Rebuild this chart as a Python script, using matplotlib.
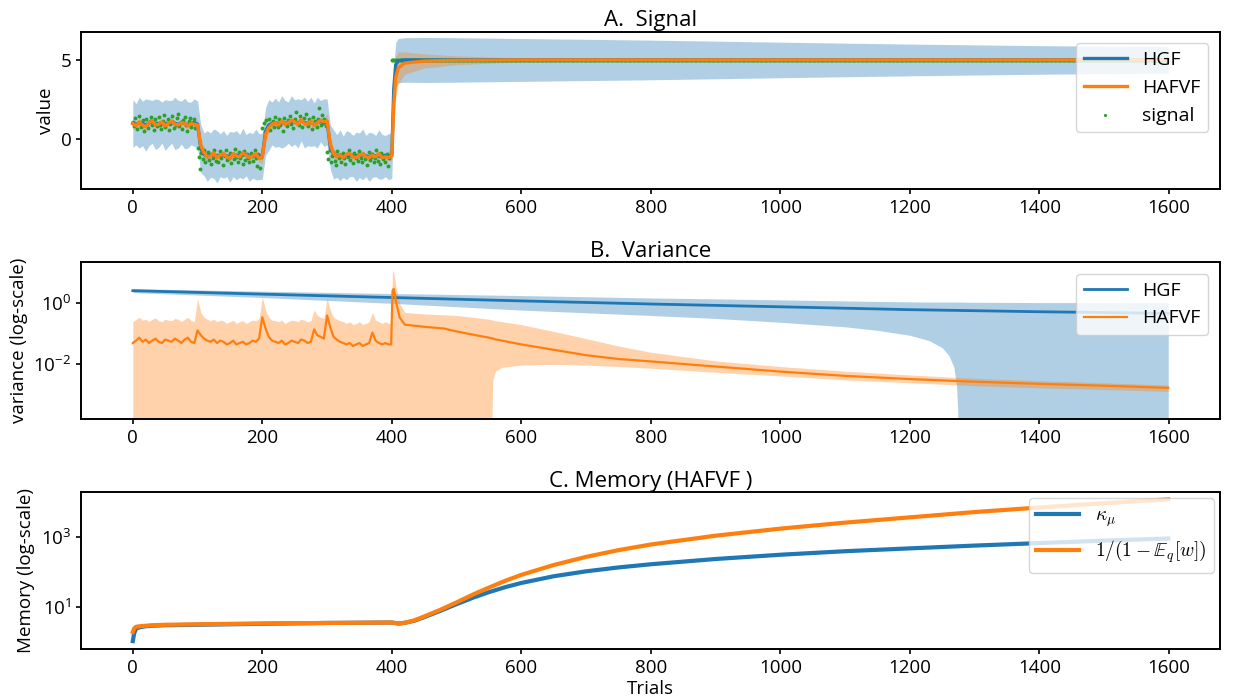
import numpy as np
import matplotlib
matplotlib.use("Agg")
import matplotlib.pyplot as plt
from matplotlib.font_manager import FontProperties
from matplotlib.ticker import NullLocator

plt.rcParams['font.family'] = ['Open Sans', 'DejaVu Sans']
plt.rcParams['mathtext.fontset'] = 'custom'
plt.rcParams['mathtext.rm'] = 'Open Sans'
plt.rcParams['mathtext.it'] = 'Open Sans:italic'
plt.rcParams['mathtext.bf'] = 'Open Sans:bold'

# ---------------- Panel A : signal ----------------
signal_trials = np.arange(0, 400, 2)
signal_values = [
    1.12, 0.85, 1.35, 0.62, 1.05, 1.48, 0.78, 0.95, 1.22, 0.55, 1.30, 0.98, 0.70, 1.15, 1.42, 0.88, 0.60, 1.25, 1.05, 0.82,
    1.38, 0.92, 0.68, 1.18, 1.55, 0.75, 1.02, 1.28, 0.58, 0.95, 1.45, 1.10, 0.72, 0.88, 1.32, 1.60, 0.85, 1.08, 0.65, 1.20,
    1.40, 0.90, 0.52, 1.15, 1.35, 0.80, 1.00, 1.25, 0.70, 0.95,
    -0.55, -1.10, -1.90, -0.85, -1.25, -0.70, -1.40, -1.05, -0.80, -1.30, -1.55, -0.95, -1.15, -0.65, -1.35, -1.00, -1.45, -0.75, -1.20, -0.90,
    -1.60, -1.05, -0.70, -1.30, -1.15, -0.85, -1.50, -0.95, -1.25, -0.60, -1.10, -1.40, -0.80, -1.20, -1.00, -1.55, -0.75, -1.30, -0.90, -1.15,
    -1.45, -0.85, -1.05, -1.35, -0.70, -1.20, -1.65, -0.95, -1.80, -1.10,
    0.70, 1.05, 0.45, 1.20, 0.85, 1.30, 0.60, 0.95, 1.15, 0.75, 1.40, 1.00, 0.80, 1.25, 0.90, 1.10, 0.55, 1.35, 1.05, 0.85,
    1.20, 1.50, 0.95, 1.15, 0.70, 1.30, 1.70, 1.05, 0.90, 1.45, 1.20, 0.80, 1.35, 1.00, 1.60, 0.85, 1.25, 1.10, 0.65, 1.40,
    0.95, 1.15, 0.75, 1.30, 2.00, 0.90, 1.55, 1.05, 1.25, 0.85,
    -0.80, -1.25, -0.65, -1.45, -1.05, -0.90, -1.35, -1.60, -0.75, -1.15, -1.00, -1.40, -0.85, -1.20, -1.55, -0.95, -1.10, -0.70, -1.30, -1.05,
    -1.50, -0.85, -1.20, -1.00, -1.35, -0.75, -1.15, -1.45, -0.90, -1.25, -1.05, -1.60, -0.80, -1.30, -1.10, -0.95, -1.40, -1.20, -0.70, -1.35,
    -1.05, -1.55, -0.85, -1.25, -1.00, -1.45, -0.90, -1.70, -1.15, -0.80,
]
signal_high_trials = np.arange(400, 1600, 2)
signal_high_level = 5.0

a_trials = list(range(0, 400, 5)) + [400, 403, 406, 410, 420, 450, 500, 600, 800, 1000, 1200, 1400, 1599]
hgf_mean_A = [
    1.0, 0.95, 1.05, 1.0, 0.9, 1.05, 1.1, 0.95, 1.0, 1.05, 0.9, 1.0, 1.1, 1.0, 0.95, 1.05, 1.0, 0.9, 1.0, 1.05,
    0.95, -0.6, -0.95, -1.05, -1.0, -0.9, -1.1, -1.0, -0.95, -1.05, -1.1, -0.95, -1.0, -1.05, -0.9, -1.0, -1.1, -1.05, -0.95, -1.1,
    -1.05, 0.5, 0.9, 1.0, 1.05, 0.95, 1.1, 1.0, 1.05, 1.15, 1.1, 1.0, 1.2, 1.05, 1.0, 1.1, 0.95, 1.05, 1.15, 1.05,
    1.1, -0.5, -0.95, -1.05, -1.0, -1.1, -1.0, -0.95, -1.05, -1.1, -1.0, -0.95, -1.05, -1.1, -1.0, -1.05, -0.95, -1.1, -1.05, -1.1,
    -1.0, 3.2, 4.7, 4.95, 5.0, 5.0, 5.0, 5.0, 5.0, 5.0, 5.0, 5.0, 5.0,
]
hafvf_mean_A = [
    1.0, 0.85, 1.1, 0.9, 0.8, 1.05, 1.15, 0.9, 0.95, 1.1, 0.85, 1.0, 1.15, 0.95, 0.9, 1.05, 1.0, 0.85, 1.0, 0.95,
    0.9, -0.4, -0.85, -1.1, -1.05, -0.85, -1.15, -1.0, -0.9, -1.1, -1.2, -0.9, -1.05, -1.1, -0.85, -1.0, -1.15, -1.05, -0.9, -1.2,
    -1.1, 0.3, 0.75, 0.95, 1.05, 0.9, 1.15, 0.95, 1.05, 1.2, 1.1, 0.95, 1.25, 1.0, 0.95, 1.15, 0.9, 1.05, 1.2, 1.1,
    1.15, -0.3, -0.9, -1.1, -1.0, -1.15, -0.95, -0.9, -1.1, -1.15, -1.0, -0.9, -1.1, -1.15, -1.0, -1.1, -0.9, -1.15, -1.1, -1.15,
    -1.05, 2.2, 3.9, 4.5, 4.8, 4.93, 4.98, 5.0, 5.0, 5.0, 5.0, 5.0, 5.0,
]
hgf_sd_A = [
    1.5, 1.3, 1.6, 1.4, 1.65, 1.45, 1.35, 1.6, 1.5, 1.3, 1.6, 1.45, 1.35, 1.65, 1.5, 1.35, 1.6, 1.45, 1.35, 1.5,
    1.45, 1.5, 1.35, 1.6, 1.4, 1.55, 1.65, 1.35, 1.5, 1.3, 1.6, 1.4, 1.55, 1.35, 1.6, 1.3, 1.55, 1.4, 1.6, 1.45,
    1.45, 1.5, 1.6, 1.35, 1.55, 1.4, 1.65, 1.45, 1.3, 1.6, 1.4, 1.55, 1.3, 1.6, 1.4, 1.55, 1.35, 1.6, 1.3, 1.5,
    1.45, 1.4, 1.55, 1.35, 1.6, 1.3, 1.55, 1.4, 1.3, 1.55, 1.4, 1.6, 1.3, 1.55, 1.4, 1.3, 1.55, 1.4, 1.3, 1.45,
    1.45, 1.4, 1.4, 1.4, 1.4, 1.42, 1.4, 1.35, 1.25, 1.12, 1.0, 0.9, 0.83,
]
hafvf_sd_A = [
    0.3, 0.25, 0.25, 0.2, 0.25, 0.2, 0.25, 0.2, 0.2, 0.25, 0.2, 0.2, 0.25, 0.2, 0.2, 0.2, 0.25, 0.2, 0.2, 0.2,
    0.35, 0.5, 0.35, 0.25, 0.25, 0.2, 0.2, 0.2, 0.2, 0.2, 0.2, 0.2, 0.2, 0.2, 0.2, 0.2, 0.2, 0.2, 0.2, 0.25,
    0.45, 0.55, 0.35, 0.25, 0.2, 0.2, 0.2, 0.2, 0.2, 0.2, 0.2, 0.2, 0.2, 0.2, 0.2, 0.3, 0.25, 0.2, 0.2, 0.2,
    0.45, 0.55, 0.35, 0.25, 0.2, 0.2, 0.2, 0.2, 0.2, 0.2, 0.2, 0.2, 0.2, 0.2, 0.25, 0.2, 0.2, 0.2, 0.2, 0.2,
    0.3, 1.4, 1.3, 1.0, 0.7, 0.45, 0.28, 0.12, 0.05, 0.03, 0.02, 0.015, 0.01,
]

# ---------------- Panel B : variance ----------------
b_trials = list(range(0, 400, 5)) + [399, 401, 403, 407, 412, 420, 450, 480, 500, 530, 550, 553, 556, 560, 570,
                                      600, 650, 700, 750, 800, 900, 1000, 1100, 1200, 1300, 1400, 1500, 1599]
hafvf_var_B = [
    0.05, 0.06, 0.075, 0.055, 0.065, 0.05, 0.06, 0.07, 0.055, 0.05, 0.065, 0.06, 0.055, 0.07, 0.06, 0.05, 0.065, 0.075, 0.055, 0.05,
    0.13, 0.09, 0.07, 0.06, 0.055, 0.065, 0.05, 0.06, 0.055, 0.045, 0.05, 0.06, 0.045, 0.05, 0.055, 0.045, 0.05, 0.06, 0.055, 0.07,
    0.35, 0.15, 0.08, 0.06, 0.055, 0.05, 0.06, 0.045, 0.05, 0.06, 0.055, 0.05, 0.065, 0.06, 0.05, 0.055, 0.14, 0.09, 0.08, 0.07,
    0.4, 0.16, 0.08, 0.065, 0.055, 0.05, 0.045, 0.05, 0.04, 0.045, 0.05, 0.04, 0.045, 0.05, 0.11, 0.06, 0.05, 0.045, 0.05, 0.045,
    0.045, 2.5, 3.0, 1.0, 0.35, 0.2, 0.17, 0.15, 0.12, 0.09, 0.075, 0.072, 0.07, 0.066, 0.06,
    0.045, 0.03, 0.02, 0.015, 0.0125, 0.0085, 0.0058, 0.0042, 0.0033, 0.0027, 0.0023, 0.002, 0.0017,
]
hafvf_upper_B = [
    0.25, 0.3, 0.35, 0.28, 0.3, 0.25, 0.3, 0.33, 0.27, 0.25, 0.3, 0.28, 0.27, 0.32, 0.3, 0.25, 0.3, 0.35, 0.27, 0.25,
    1.4, 0.5, 0.35, 0.3, 0.27, 0.3, 0.25, 0.28, 0.27, 0.22, 0.25, 0.28, 0.22, 0.25, 0.27, 0.22, 0.25, 0.28, 0.27, 0.32,
    1.6, 0.6, 0.35, 0.28, 0.27, 0.25, 0.28, 0.22, 0.25, 0.28, 0.27, 0.25, 0.3, 0.28, 0.25, 0.27, 0.6, 0.4, 0.35, 0.32,
    1.5, 0.6, 0.35, 0.3, 0.27, 0.25, 0.22, 0.25, 0.2, 0.22, 0.25, 0.2, 0.22, 0.25, 0.5, 0.28, 0.25, 0.22, 0.25, 0.22,
    0.22, 12.0, 10.0, 3.0, 1.0, 0.5, 0.45, 0.42, 0.4, 0.34, 0.3, 0.29, 0.28, 0.27, 0.25,
    0.2, 0.12, 0.07, 0.04, 0.025, 0.013, 0.0085, 0.006, 0.0045, 0.0035, 0.0029, 0.0025, 0.0021,
]
hafvf_lower_B = [1e-9] * 80 + [
    1e-9, 1e-9, 1e-9, 1e-9, 1e-9, 1e-9, 1e-9, 1e-9, 1e-9, 1e-9, 1e-9, 1e-5, 0.003, 0.006, 0.008,
    0.0095, 0.01, 0.0095, 0.0085, 0.0075, 0.0055, 0.0042, 0.0031, 0.0025, 0.002, 0.0017, 0.0015, 0.0013,
]

hgf_var_trials = [0, 200, 400, 600, 800, 1000, 1200, 1400, 1599]
hgf_var_B = [2.6, 2.0, 1.55, 1.2, 0.95, 0.77, 0.62, 0.53, 0.47]
hgf_band_trials = [0, 200, 400, 600, 800, 900, 1000, 1100, 1150, 1200, 1230, 1250, 1260, 1268, 1272, 1274, 1275, 1300, 1400, 1599]
hgf_upper_B = [3.0, 2.5, 2.1, 1.8, 1.5, 1.4, 1.3, 1.2, 1.15, 1.12, 1.1, 1.1, 1.1, 1.1, 1.1, 1.1, 1.1, 1.08, 1.06, 1.05]
hgf_lower_B = [2.25, 1.55, 1.0, 0.6, 0.4, 0.32, 0.24, 0.17, 0.13, 0.09, 0.06, 0.035, 0.02, 0.008, 0.002, 0.0003, 1e-9,
               1e-9, 1e-9, 1e-9]

# ---------------- Panel C : memory ----------------
c_trials = [0, 2, 5, 10, 20, 30, 50, 100, 200, 300, 400, 410, 420, 435, 450, 475, 500, 525, 550, 575, 600, 650, 700, 750,
            800, 900, 1000, 1100, 1200, 1300, 1400, 1500, 1599]
kappa_mu = [1.1, 1.8, 2.5, 2.7, 2.9, 3.0, 3.1, 3.2, 3.4, 3.6, 3.7, 3.47, 3.63, 4.17, 5.25, 7.94, 12.3, 18.6, 26.9, 37.2, 49.0,
            75.9, 104.7, 134.9, 166.0, 234.0, 309.0, 389.0, 468.0, 562.0, 661.0, 776.0, 891.0]
inv_one_minus_w = [2.0, 2.5, 2.8, 2.9, 3.0, 3.1, 3.2, 3.3, 3.5, 3.6, 3.7, 3.47, 3.63, 4.27, 5.5, 8.5, 13.8, 22.9, 36.3, 56.2,
                   83.2, 158.0, 269.0, 417.0, 603.0, 1072.0, 1698.0, 2512.0, 3548.0, 5012.0, 6761.0, 8913.0, 11482.0]

C0, C1, C2 = '#1f77b4', '#ff7f0e', '#2ca02c'

fig = plt.figure(figsize=(12.33, 6.98), dpi=100)
L, R = 0.0657, 0.9895
axA = fig.add_axes([L, 0.7292, R - L, 0.9546 - 0.7292])
axB = fig.add_axes([L, 0.3997, R - L, 0.6242 - 0.3997])
axC = fig.add_axes([L, 0.0698, R - L, 0.2947 - 0.0698])

tick_fs = 13.5
title_fs = 16
leg_fs = 14

# Panel A
hm = np.array(hgf_mean_A); hs = np.array(hgf_sd_A)
am = np.array(hafvf_mean_A); asd = np.array(hafvf_sd_A)
axA.fill_between(a_trials, hm - hs, hm + hs, color=C0, alpha=0.35, lw=0)
axA.fill_between(a_trials, am - asd, am + asd, color=C1, alpha=0.35, lw=0)
axA.scatter(signal_trials, signal_values, s=8, color=C2, marker='o', lw=0, zorder=1.5)
axA.scatter(signal_high_trials, [signal_high_level] * len(signal_high_trials), s=8, color=C2, marker='o', lw=0,
            zorder=1.5, label='signal')
axA.plot(a_trials, hm, color=C0, lw=2.4, label='HGF')
axA.plot(a_trials, am, color=C1, lw=2.4, label='HAFVF')
axA.set_ylim(-3.13, 6.78)
axA.set_yticks([0, 5])
axA.set_ylabel('value', fontsize=tick_fs)
axA.set_title('A.  Signal', fontsize=title_fs, pad=4)
h, l = axA.get_legend_handles_labels()
order = [l.index('HGF'), l.index('HAFVF'), l.index('signal')]
axA.legend([h[i] for i in order], [l[i] for i in order], loc='upper right', fontsize=leg_fs,
           markerscale=0.8, handlelength=2.2, borderaxespad=0.6)

# Panel B
axB.set_yscale('log')
axB.fill_between(hgf_band_trials, hgf_lower_B, hgf_upper_B, color=C0, alpha=0.35, lw=0)
axB.fill_between(b_trials, hafvf_lower_B, hafvf_upper_B, color=C1, alpha=0.35, lw=0)
axB.plot(hgf_var_trials, hgf_var_B, color=C0, lw=2, label='HGF')
axB.plot(b_trials, hafvf_var_B, color=C1, lw=1.6, label='HAFVF')
axB.set_ylim(10 ** -3.79, 10 ** 1.344)
axB.set_yticks([1e-2, 1])
axB.yaxis.set_minor_locator(NullLocator())
axB.set_ylabel('variance (log-scale)', fontsize=tick_fs)
axB.set_title('B.  Variance', fontsize=title_fs, pad=4)
axB.legend(loc='upper right', fontsize=leg_fs, handlelength=2.2, borderaxespad=0.6)

# Panel C
axC.set_yscale('log')
axC.plot(c_trials, kappa_mu, color=C0, lw=3, label=r'$\kappa_\mu$')
axC.plot(c_trials, inv_one_minus_w, color=C1, lw=3, label=r'$1/(1-\mathbb{E}_q[w])$')
axC.set_ylim(10 ** -0.19, 10 ** 4.26)
axC.set_yticks([10, 1000])
axC.yaxis.set_minor_locator(NullLocator())
axC.set_ylabel('Memory (log-scale)', fontsize=tick_fs)
axC.set_xlabel('Trials', fontsize=tick_fs, labelpad=2)
axC.set_title('C. Memory (HAFVF )', fontsize=title_fs, pad=4)
axC.legend(loc='upper right', prop=FontProperties(family='DejaVu Sans', size=14, math_fontfamily='cm'),
           handlelength=2.2, borderaxespad=0.3)

for ax in (axA, axB, axC):
    ax.set_xlim(-80, 1679)
    ax.set_xticks(range(0, 1601, 200))
    ax.tick_params(labelsize=tick_fs, width=1.2)
    for sp in ax.spines.values():
        sp.set_linewidth(1.4)

fig.savefig('out.png', dpi=100)
